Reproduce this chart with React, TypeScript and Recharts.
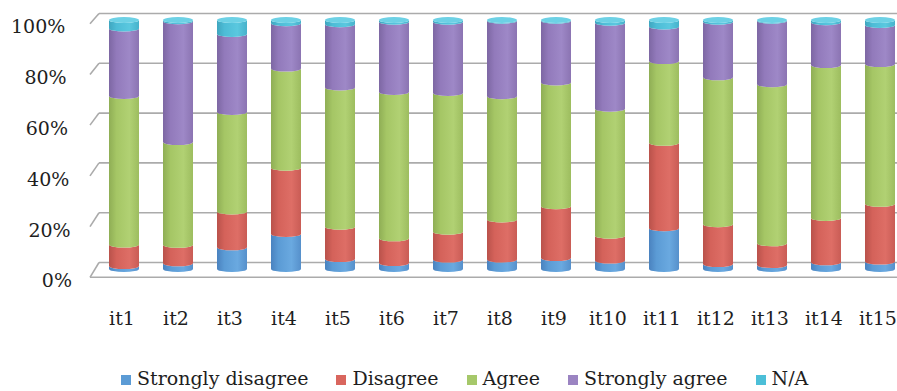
import React from 'react';
import { BarChart, Bar, XAxis, YAxis, CartesianGrid, Legend } from 'recharts';

// Survey items and the share of each response (percent of answers)
const items = ['it1', 'it2', 'it3', 'it4', 'it5', 'it6', 'it7', 'it8', 'it9', 'it10', 'it11', 'it12', 'it13', 'it14', 'it15'];
const stronglyDisagree = [1.2, 2.3, 8.7, 14.1, 4.0, 2.4, 3.8, 3.8, 4.4, 3.4, 16.4, 2.0, 1.6, 2.7, 3.0];
const disagree = [8.6, 7.4, 14.4, 26.6, 13.0, 9.9, 11.2, 16.1, 20.8, 10.0, 34.3, 16.0, 8.7, 17.8, 23.2];
const agree = [59.7, 41.3, 40.0, 39.8, 55.9, 58.8, 55.7, 49.5, 49.7, 51.0, 32.8, 59.0, 63.9, 61.4, 56.1];
const stronglyAgree = [27.1, 48.5, 31.3, 18.2, 25.4, 28.2, 28.6, 30.3, 24.8, 34.5, 13.9, 22.3, 25.5, 17.2, 15.7];
const notApplicable = [3.4, 0.5, 5.6, 1.3, 1.7, 0.7, 0.7, 0.3, 0.3, 1.1, 2.6, 0.7, 0.3, 0.9, 2.0];
const percentTicks = [0, 0.2, 0.4, 0.6, 0.8, 1];

const data = items.map((name, i) => ({
  name,
  sd: stronglyDisagree[i],
  d: disagree[i],
  a: agree[i],
  sa: stronglyAgree[i],
  na: notApplicable[i],
}));

type Series = { key: string; name: string; color: string; stops: string[]; cap?: string };

const series: Series[] = [
  { key: 'sd', name: 'Strongly disagree', color: '#5b9bd5', stops: ['#4a82bf', '#5b9bd5', '#6aa9e0', '#5690cb'] },
  { key: 'd', name: 'Disagree', color: '#d9665e', stops: ['#b9524b', '#d4625a', '#de6e66', '#c95c55'] },
  { key: 'a', name: 'Agree', color: '#a6c86a', stops: ['#8fae55', '#a5c665', '#b1d173', '#9dbd5f'] },
  { key: 'sa', name: 'Strongly agree', color: '#9b84c2', stops: ['#7d67a3', '#927abb', '#9e88c7', '#8b74b2'] },
  { key: 'na', name: 'N/A', color: '#4cbfd8', stops: ['#3fa6bf', '#4dbcd6', '#5ac8df', '#47b2cb'], cap: '#6dd1e5' },
];

const FONT = '"DejaVu Serif", serif';
const TEXT = '#1e1e1e';
const CHART_W = 907;
const CHART_H = 391;
const MARGIN = { top: 23, right: 0, bottom: 1, left: 0 };
const Y_AXIS_W = 97;
const X_AXIS_H = 94;
const LEGEND_H = 24;
const PLOT_TOP = MARGIN.top;
const PLOT_BOTTOM = CHART_H - MARGIN.bottom - LEGEND_H - X_AXIS_H;
const PLOT_H = PLOT_BOTTOM - PLOT_TOP;
const RY = 3;

// A stacked segment drawn as a slice of a cylinder, lit from the right
function Cylinder(props: any) {
  const { x, y, width, height, gradId, cap } = props;
  if (width == null || height == null || !isFinite(y)) return null;
  const rx = width / 2;
  const yt = y - RY;
  const yb = y + height - RY;
  const d = `M${x},${yt} A${rx},${RY} 0 0 0 ${x + width},${yt} L${x + width},${yb} A${rx},${RY} 0 0 1 ${x},${yb} Z`;
  return (
    <g>
      <path d={d} fill={`url(#${gradId})`} />
      {cap ? <ellipse cx={x + rx} cy={y - RY} rx={rx} ry={RY} fill={cap} /> : null}
    </g>
  );
}

// Back-wall gridline with the short perspective edge on the left
function WallLine(props: any) {
  const { x1, x2, y1 } = props;
  const v = (PLOT_BOTTOM - y1) / PLOT_H;
  const back = y1 - 9.5;
  const front = y1 + 5.3 - 4.6 * v;
  const fx = x1 - 7;
  const bx = x1 + 2;
  const stroke = '#ababab';
  return (
    <g>
      <line x1={bx} y1={back} x2={x2} y2={back} stroke={stroke} strokeWidth={1.6} />
      <line x1={fx} y1={front} x2={bx} y2={back} stroke={stroke} strokeWidth={1.6} />
      {v < 0.01 ? <line x1={fx} y1={front} x2={x2} y2={front} stroke={stroke} strokeWidth={1.6} /> : null}
    </g>
  );
}

function PercentTick(props: any) {
  const { x, y, payload } = props;
  const v = payload.value;
  return (
    <text x={x - 6.7 * v} y={y + 8.3 - 4.9 * v} textAnchor="end" dominantBaseline="central"
      fontFamily={FONT} fontSize={19} fill={TEXT}>
      {`${Math.round(v * 100)}%`}
    </text>
  );
}

function ItemTick(props: any) {
  const { x, y, payload } = props;
  return (
    <text x={x - 2} y={y} textAnchor="middle" dominantBaseline="central"
      fontFamily={FONT} fontSize={19} fill={TEXT}>
      {payload.value}
    </text>
  );
}

// Legend entries listed in stacking order, bottom segment first
function LegendRow(props: any) {
  const payload: any[] = props.payload || [];
  const entries = series
    .map((s) => ({ s, entry: payload.find((p) => p.dataKey === s.key) }))
    .filter((it) => it.entry);
  return (
    <div style={{ height: LEGEND_H, display: 'flex', alignItems: 'center', paddingLeft: 121, fontFamily: FONT, fontSize: 19, color: TEXT, whiteSpace: 'nowrap' }}>
      {entries.map(({ s, entry }) => (
        <div key={s.key} style={{ display: 'flex', alignItems: 'center', marginRight: 28 }}>
          <span style={{ width: 10, height: 10, background: s.color, marginRight: 6, display: 'inline-block', position: 'relative', top: 2 }} />
          <span>{entry.value}</span>
        </div>
      ))}
    </div>
  );
}

export default function App() {
  return (
    <div style={{ position: 'absolute', left: 0, top: 0, width: 897, height: 391, overflow: 'hidden', background: '#fff' }}>
      <BarChart width={CHART_W} height={CHART_H} data={data} stackOffset="expand" margin={MARGIN}>
        <defs>
          {series.map((s) => (
            <linearGradient key={s.key} id={`cyl-${s.key}`} x1="0" y1="0" x2="1" y2="0">
              <stop offset="0%" stopColor={s.stops[0]} />
              <stop offset="25%" stopColor={s.stops[1]} />
              <stop offset="68%" stopColor={s.stops[2]} />
              <stop offset="100%" stopColor={s.stops[3]} />
            </linearGradient>
          ))}
        </defs>
        <CartesianGrid vertical={false} horizontal={(p: any) => <WallLine {...p} />} />
        <YAxis type="number" domain={[0, 1]} ticks={percentTicks} width={Y_AXIS_W} axisLine={false} tickLine={false}
          tickSize={0} tickMargin={25} tick={<PercentTick />} interval={0} />
        <XAxis dataKey="name" height={X_AXIS_H} axisLine={false} tickLine={false} tickSize={0} tickMargin={46}
          tick={<ItemTick />} interval={0} />
        <Legend verticalAlign="bottom" height={LEGEND_H} content={<LegendRow />} />
        {series.map((s, i) => (
          <Bar key={s.key} dataKey={s.key} name={s.name} stackId="resp" fill={s.color} barSize={30}
            isAnimationActive={false}
            shape={(p: any) => <Cylinder {...p} gradId={`cyl-${s.key}`} cap={i === series.length - 1 ? s.cap : undefined} />} />
        ))}
      </BarChart>
    </div>
  );
}
